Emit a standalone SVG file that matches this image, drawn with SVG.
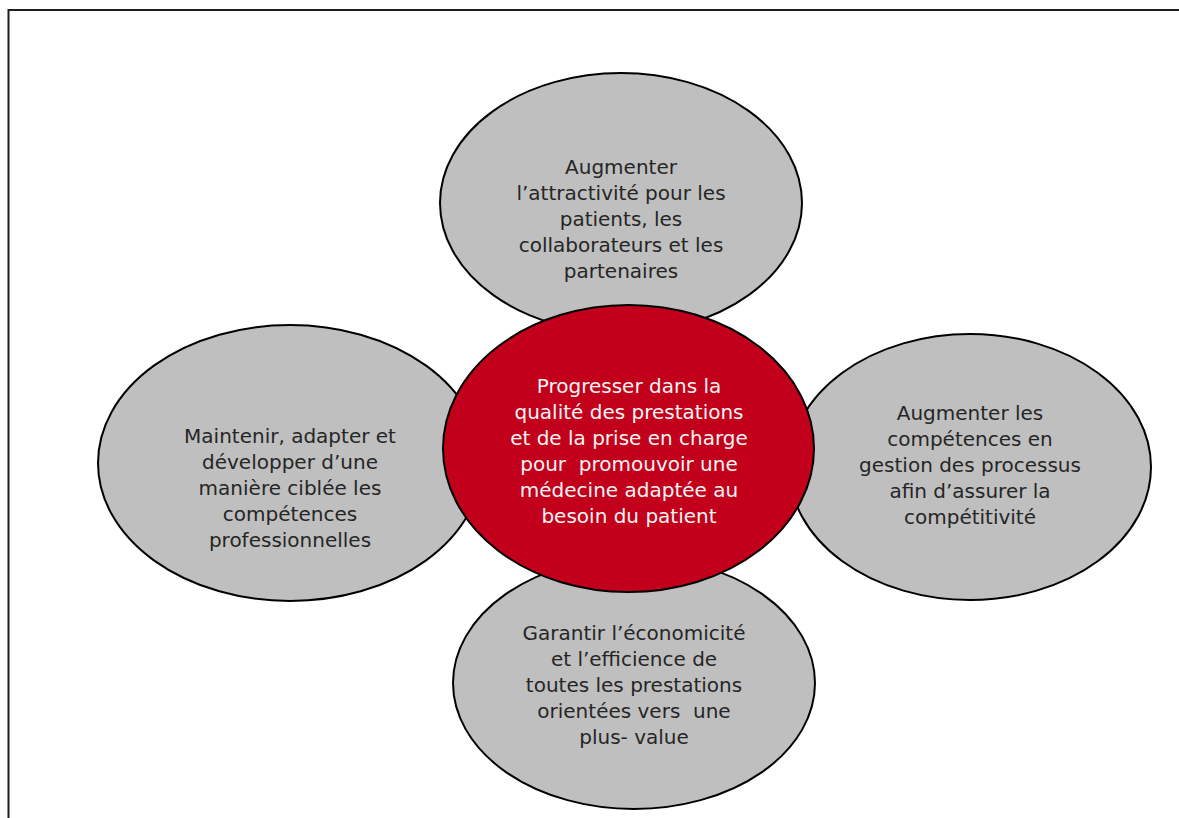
<svg xmlns="http://www.w3.org/2000/svg" width="1179" height="818" viewBox="0 0 1179 818">
<style>
.g{fill:#bfbfbf;stroke:#000;stroke-width:2}
.c{fill:#c2001b;stroke:#000;stroke-width:2}
text{font-family:"DejaVu Sans","Liberation Sans",sans-serif;font-size:20px;text-anchor:middle}
.t{fill:#262626}
.w{fill:#f4f4f4}
</style>
<rect x="0" y="0" width="1179" height="818" fill="#fff"/>
<rect x="8.5" y="10" width="1200" height="900" fill="none" stroke="#1e1e1e" stroke-width="2"/>
<g id="connectors"/>
<g id="top">
<ellipse class="g" cx="621" cy="203" rx="181" ry="130"/>
<text class="t"><tspan x="621" y="174">Augmenter</tspan><tspan x="621" y="200">l’attractivité pour les</tspan><tspan x="621" y="226">patients, les</tspan><tspan x="621" y="252">collaborateurs et les</tspan><tspan x="621" y="278">partenaires</tspan></text>
</g>
<g id="left">
<ellipse class="g" cx="290" cy="463" rx="192" ry="138"/>
<text class="t"><tspan x="290" y="443">Maintenir, adapter et</tspan><tspan x="290" y="469">développer d’une</tspan><tspan x="290" y="495">manière ciblée les</tspan><tspan x="290" y="521">compétences</tspan><tspan x="290" y="547">professionnelles</tspan></text>
</g>
<g id="right">
<ellipse class="g" cx="970" cy="467" rx="181" ry="133"/>
<text class="t"><tspan x="970" y="420">Augmenter les</tspan><tspan x="970" y="446">compétences en</tspan><tspan x="970" y="472">gestion des processus</tspan><tspan x="970" y="498">afin d’assurer la</tspan><tspan x="970" y="524">compétitivité</tspan></text>
</g>
<g id="bottom">
<ellipse class="g" cx="634" cy="683" rx="181" ry="126"/>
<text class="t" xml:space="preserve"><tspan x="634" y="640">Garantir l’économicité</tspan><tspan x="634" y="666">et l’efficience de</tspan><tspan x="634" y="692">toutes les prestations</tspan><tspan x="634" y="718">orientées vers  une</tspan><tspan x="634" y="744">plus- value</tspan></text>
</g>
<g id="center">
<ellipse class="c" cx="628.5" cy="448.5" rx="185.5" ry="143.5"/>
<text class="w" xml:space="preserve"><tspan x="629" y="393">Progresser dans la</tspan><tspan x="629" y="419">qualité des prestations</tspan><tspan x="629" y="445">et de la prise en charge</tspan><tspan x="629" y="471">pour  promouvoir une</tspan><tspan x="629" y="497">médecine adaptée au</tspan><tspan x="629" y="523">besoin du patient</tspan></text>
</g>
</svg>
